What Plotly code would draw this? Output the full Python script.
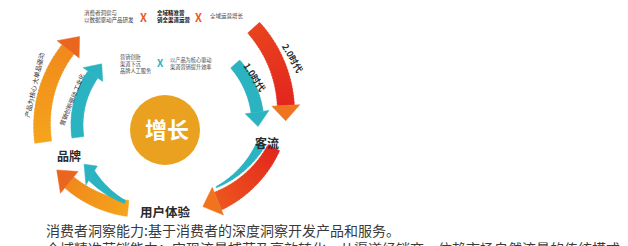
import numpy as np
import plotly.graph_objects as go

W, H = 628, 246

# ---------------- content ----------------
center_label = "增长"
node_labels = ["品牌", "客流", "用户体验"]
era_labels = ["2.0时代", "1.0时代"]
top_blocks = ["消费者洞察与<br>以数据驱动产品研发", "全域精准营<br>销全渠道运营", "全域运营增长"]
inner_blocks = ["营销创新<br>渠道下沉<br>品牌人工服务", "以产品为核心驱动<br>渠道营销提升效率"]
side_labels = ["产品为核心 大单品驱动", "营销创新驱动 工业化"]
cross_mark = "X"
caption_lines = [
    "消费者洞察能力:基于消费者的深度洞察开发产品和服务。",
    "全域精准营销能力：实现流量捕获及高效转化，从渠道经销商、依赖市场自然流量的传统模式",
]

# ---------------- styles ----------------
ORANGE = "#F5A41C"
ORANGE2 = "#F08A1C"
ORANGE_RED = "#EA661E"
RED = "#E3261E"
RED_TOP = "#E8441E"
TEAL = "#2BB3C1"
GOLD = "#E9A11F"
DARK = "#2b2b2b"
FONT = "Noto Sans CJK SC"

# arc geometry (screen angles, degrees, clockwise from east)
arcs = [
    dict(c=(165, 125), r=(123, 123), p=(172, 226), w=(17, 15), col=(ORANGE, ORANGE2), head=(8, 28, ORANGE_RED)),
    dict(c=(160, 112), r=(126, 126), p=(318, 364), w=(16, 17), col=(RED_TOP, RED), head=(7, 28, "#EF7420")),
    dict(c=(175, 95), r=(112, 115), p=(28, 76), w=(13, 19), col=(RED, "#EC561E"), head=(8, 30, "#F07420")),
    dict(c=(175, 95), r=(99, 101), p=(30, 66), w=(9, 1), col=(TEAL, TEAL), head=None),
    dict(c=(140, 95), r=(114, 112), p=(96, 138), w=(16, 14), col=(ORANGE, ORANGE2), head=(9, 28, ORANGE_RED)),
    dict(c=(140, 95), r=(108, 89), p=(98, 129), w=(3, 11), col=(TEAL, TEAL), head=(8, 22, TEAL)),
    dict(c=(165, 125), r=(93, 93), p=(319, 361), w=(12, 12), col=(TEAL, TEAL), head=(9, 24, TEAL)),
    dict(c=(165, 125), r=(88, 88), p=(172, 224), w=(12, 12), col=(TEAL, TEAL), head=(9, 24, TEAL)),
]


def h2r(h):
    h = h.lstrip("#")
    return [int(h[i:i + 2], 16) for i in (0, 2, 4)]


def mix(a, b, t):
    a, b = h2r(a), h2r(b)
    return "rgb(%d,%d,%d)" % tuple(round(a[i] + (b[i] - a[i]) * t) for i in range(3))


def pt(cx, cy, r, phi):
    t = np.radians(phi)
    return cx + r * np.cos(t), cy + r * np.sin(t)


def path_of(points):
    s = "M %.2f %.2f " % points[0]
    for p in points[1:]:
        s += "L %.2f %.2f " % p
    return s + "Z"


shapes = []
for a in arcs:
    cx, cy = a["c"]
    r0, r1 = a["r"]
    p0, p1 = a["p"]
    w0, w1 = a["w"]
    c0, c1 = a["col"]
    head = a["head"]
    pb = p1 - head[0] if head else p1
    rr = lambda ph: r0 + (r1 - r0) * (ph - p0) / (p1 - p0)
    ww = lambda ph: w0 + (w1 - w0) * (ph - p0) / (pb - p0)
    n = 28
    for i in range(n):
        a0 = p0 + (pb - p0) * i / n
        a1 = p0 + (pb - p0) * (i + 1) / n
        a1e = min(a1 + 0.4, pb)
        pts = [pt(cx, cy, rr(a0) + ww(a0) / 2, a0), pt(cx, cy, rr(a1e) + ww(a1e) / 2, a1e),
               pt(cx, cy, rr(a1e) - ww(a1e) / 2, a1e), pt(cx, cy, rr(a0) - ww(a0) / 2, a0)]
        col = mix(c0, c1, (i + 0.5) / n)
        shapes.append(dict(type="path", path=path_of(pts), fillcolor=col,
                           line=dict(width=0.5, color=col), xref="x", yref="y", layer="above"))
    if head:
        hl, hw, hc = head
        rb = rr(pb)
        pts = [pt(cx, cy, rb + hw / 2, pb), pt(cx, cy, rr(p1), p1), pt(cx, cy, rb - hw / 2, pb)]
        shapes.append(dict(type="path", path=path_of(pts), fillcolor=hc,
                           line=dict(width=0.5, color=hc), xref="x", yref="y", layer="above"))

shapes.append(dict(type="circle", x0=130, x1=200, y0=95, y1=165, fillcolor=GOLD,
                   line=dict(width=0), xref="x", yref="y"))

ann = []


def add(text, x, y, size, color=DARK, bold=False, angle=0, xanchor="center", align="center", paper_y=False):
    t = "<b>%s</b>" % text if bold else text
    ann.append(dict(text=t, x=x, y=(1 - y / H) if paper_y else y, xref="x", yref="paper" if paper_y else "y",
                    showarrow=False,
                    font=dict(size=size, color=color, family=FONT), textangle=angle,
                    xanchor=xanchor, yanchor="middle", align=align))


add(center_label, 167, 128, 22, color="white", bold=True)
add(node_labels[0], 69, 155, 12, bold=True)
add(node_labels[1], 267, 142, 12, bold=True)
add(node_labels[2], 165, 211, 12.5, bold=True)
add(era_labels[0], 293, 58, 9, bold=True, angle=60)
add(era_labels[1], 255, 77, 9, bold=True, angle=57)
add(side_labels[0], 34, 85, 6.5, angle=-77)
add(side_labels[1], 71, 100, 6, angle=-68)

add(top_blocks[0], 82, 16, 5.5, color="#444", xanchor="left", align="left")
add(cross_mark, 143, 17, 11, color="#EA5A1E", bold=True)
add(top_blocks[1], 155, 16, 5.5, color="#111", bold=True, xanchor="left", align="left")
add(cross_mark, 198, 17, 11, color="#EA5A1E", bold=True)
add(top_blocks[2], 208, 16, 5.5, color="#444", xanchor="left", align="left")

add(inner_blocks[0], 118, 64, 5.2, color="#444", xanchor="left", align="left")
add(cross_mark, 160, 62, 10, color=TEAL, bold=True)
add(inner_blocks[1], 168, 63, 5.2, color="#444", xanchor="left", align="left")

add(caption_lines[0], 44, 229.5, 14, color="#3a3a3a", xanchor="left", align="left", paper_y=True)
add(caption_lines[1], 44, 247.5, 14, color="#3a3a3a", xanchor="left", align="left", paper_y=True)

fig = go.Figure()
fig.update_layout(
    width=W, height=H, margin=dict(l=0, r=0, t=0, b=0),
    paper_bgcolor="white", plot_bgcolor="white",
    xaxis=dict(range=[0, W], visible=False, fixedrange=True),
    yaxis=dict(range=[H, 0], visible=False, fixedrange=True),
    shapes=shapes, annotations=ann, showlegend=False,
)
fig.write_html("out.html", config={"displayModeBar": False},
               post_script="document.body.style.margin='0';document.body.style.overflow='hidden';")
